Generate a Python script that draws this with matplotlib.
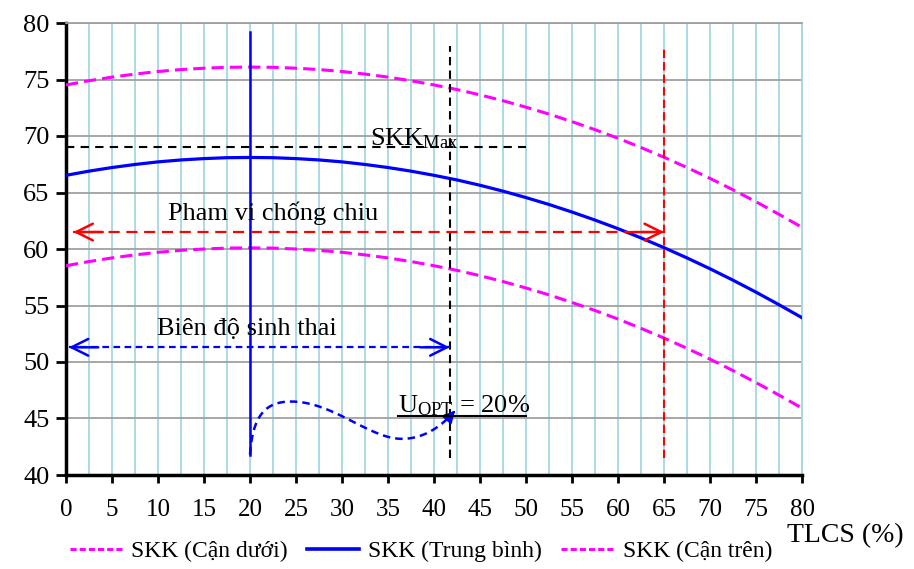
import numpy as np
import matplotlib
matplotlib.use("Agg")
import matplotlib.pyplot as plt
from matplotlib.lines import Line2D

plt.rcParams['font.family'] = ['Liberation Serif', 'DejaVu Serif']
plt.rcParams['mathtext.fontset'] = 'custom'
plt.rcParams['mathtext.rm'] = 'Liberation Serif'
plt.rcParams['mathtext.it'] = 'Liberation Serif'

# ---- data ----
tlcs = [0, 2.5, 5, 7.5, 10, 12.5, 15, 17.5, 20, 22.5, 25, 27.5, 30, 32.5, 35, 37.5, 40,
        42.5, 45, 47.5, 50, 52.5, 55, 57.5, 60, 62.5, 65, 67.5, 70, 72.5, 75, 77.5, 80]
skk_mid = [66.52, 66.89, 67.21, 67.48, 67.71, 67.88, 68.00, 68.08, 68.10, 68.08, 68.00,
           67.88, 67.71, 67.48, 67.21, 66.89, 66.52, 66.11, 65.64, 65.12, 64.55, 63.94,
           63.27, 62.56, 61.80, 60.98, 60.12, 59.21, 58.25, 57.24, 56.18, 55.07, 53.92]
skk_low = [58.52, 58.89, 59.21, 59.48, 59.71, 59.88, 60.00, 60.08, 60.10, 60.08, 60.00,
           59.88, 59.71, 59.48, 59.21, 58.89, 58.52, 58.11, 57.64, 57.12, 56.55, 55.94,
           55.27, 54.56, 53.80, 52.98, 52.12, 51.21, 50.25, 49.24, 48.18, 47.07, 45.92]
skk_up = [74.52, 74.89, 75.21, 75.48, 75.71, 75.88, 76.00, 76.08, 76.10, 76.08, 76.00,
          75.88, 75.71, 75.48, 75.21, 74.89, 74.52, 74.11, 73.64, 73.12, 72.55, 71.94,
          71.27, 70.56, 69.80, 68.98, 68.12, 67.21, 66.25, 65.24, 64.18, 63.07, 61.92]
x_ticks = list(range(0, 81, 5))
y_ticks = list(range(40, 81, 5))

u_opt = 20          # optimum vertical line
u_black = 41.7      # black dashed vertical
u_red = 65          # red dashed vertical
skk_max = 69        # horizontal dashed level
range_y = 61.5      # tolerance range arrow level
amp_y = 51.3        # ecological amplitude arrow level
# control points of the blue dashed curve (cubic bezier segments)
curve_pts = [(20, 41.8), (20.3, 45.6), (22, 46.5), (24.5, 46.5),
             (29, 46.5), (33, 43.2), (36.5, 43.2),
             (39, 43.2), (41, 44.4), (42.5, 45.9)]

fig = plt.figure(figsize=(9.14, 5.69), dpi=100)
ax = fig.add_axes([66/914, 1-475/569, (802-66)/914, (475-23)/569])

ax.set_xlim(0, 80)
ax.set_ylim(40, 80)

# grid
ax.set_xticks(x_ticks)
ax.set_xticks(np.arange(0, 80.1, 2.5), minor=True)
ax.set_yticks(y_ticks)
ax.grid(axis='x', which='both', color='#A6D7E3', lw=1.3, zorder=0)
ax.grid(axis='y', which='major', color='#A0A0A0', lw=1.3, zorder=0)
ax.set_axisbelow(True)
ax.tick_params(axis='x', which='minor', length=0)
ax.tick_params(axis='x', which='major', direction='out', length=6, width=2, labelsize=18, pad=11)
ax.tick_params(axis='y', which='major', direction='out', length=7, width=2, labelsize=19, pad=5)
for s in ['left', 'bottom']:
    ax.spines[s].set_linewidth(2.5)
    ax.spines[s].set_color('black')
ax.spines['top'].set_color('#A0A0A0')
ax.spines['top'].set_linewidth(1.3)
ax.spines['right'].set_color('#A6D7E3')
ax.spines['right'].set_linewidth(1.3)

magenta = '#FF00FF'
blue = '#0000FF'
red = '#FF0000'

ax.plot(tlcs, skk_up, color=magenta, lw=2.2, dashes=(4, 2), zorder=3)
ax.plot(tlcs, skk_mid, color=blue, lw=2.3, zorder=3)
ax.plot(tlcs, skk_low, color=magenta, lw=2.2, dashes=(4, 2), zorder=3)

# vertical lines
ax.plot([u_opt, u_opt], [41.8, 79.2], color=blue, lw=1.8, zorder=4)
ax.plot([u_black, u_black], [41.5, 78], color='black', lw=1.5, dashes=(4, 2.5), zorder=4)
ax.plot([u_red, u_red], [41.5, 78], color=red, lw=1.5, dashes=(4, 2), zorder=4)

# SKK max horizontal line
ax.plot([0, 50], [skk_max, skk_max], color='black', lw=1.5, dashes=(4, 3), zorder=4)
ax.text(33.0, 69.2, r'SKK$_{\mathrm{Max}}$', fontsize=19, va='baseline', ha='left', zorder=5)

head = dict(arrowstyle='->', lw=1.8, mutation_scale=30, shrinkA=0, shrinkB=0)

# tolerance range arrow
ax.plot([0.8, u_red], [range_y, range_y], color=red, lw=1.6, dashes=(5, 3), zorder=4)
ax.annotate('', xy=(0.8, range_y), xytext=(4, range_y),
            arrowprops=dict(color=red, **head), zorder=5)
ax.annotate('', xy=(u_red, range_y), xytext=(61.8, range_y),
            arrowprops=dict(color=red, **head), zorder=5)
ax.text(11.1, 62.6, 'Pham vi chống chiu', fontsize=19, va='baseline', ha='left', zorder=5)

# ecological amplitude arrow
ax.plot([0.3, u_black], [amp_y, amp_y], color=blue, lw=1.6, dashes=(3, 2), zorder=4)
ax.annotate('', xy=(0.3, amp_y), xytext=(3.5, amp_y),
            arrowprops=dict(color=blue, **head), zorder=5)
ax.annotate('', xy=(u_black, amp_y), xytext=(38.5, amp_y),
            arrowprops=dict(color=blue, **head), zorder=5)
ax.text(9.9, 52.4, 'Biên độ sinh thai', fontsize=19, va='baseline', ha='left', zorder=5)

# blue dashed curve with arrow
t = np.linspace(0, 1, 40)
segs = []
for i in range(0, len(curve_pts) - 1, 3):
    p0, p1, p2, p3 = [np.array(curve_pts[i + k]) for k in range(4)]
    pts = (np.outer((1 - t) ** 3, p0) + np.outer(3 * (1 - t) ** 2 * t, p1)
           + np.outer(3 * (1 - t) * t ** 2, p2) + np.outer(t ** 3, p3))
    segs.append(pts)
curve = np.vstack(segs)
ax.plot(curve[:-4, 0], curve[:-4, 1], color=blue, lw=1.8, dashes=(3, 2), zorder=4)
ax.annotate('', xy=curve[-1], xytext=curve[-6],
            arrowprops=dict(arrowstyle='-|>', color=blue, lw=1.5, mutation_scale=18), zorder=5)

ax.text(36.1, 45.5, r'U$_{\mathrm{OPT}}$ = 20%', fontsize=19, va='baseline', ha='left', zorder=5)
ax.plot([36.1, 50], [45.2, 45.2], color='black', lw=1.5, zorder=5, clip_on=False)

# axis title
fig.text(787/914, 1-542/569, 'TLCS (%)', fontsize=20, va='baseline', ha='left')

# legend
handles = [
    Line2D([], [], color=magenta, lw=2.2, dashes=(2, 1)),
    Line2D([], [], color=blue, lw=2.6),
    Line2D([], [], color=magenta, lw=2.2, dashes=(2, 1)),
]
labels = ['SKK (Cận dưới)', 'SKK (Trung bình)', 'SKK (Cận trên)']
fig.legend(handles, labels, loc='center', bbox_to_anchor=(421/914, 1-551/569), ncol=3,
           frameon=False, fontsize=17, handlelength=2.2, handletextpad=0.4,
           columnspacing=0.8, borderpad=0, borderaxespad=0)

fig.savefig('out.png', dpi=100)
